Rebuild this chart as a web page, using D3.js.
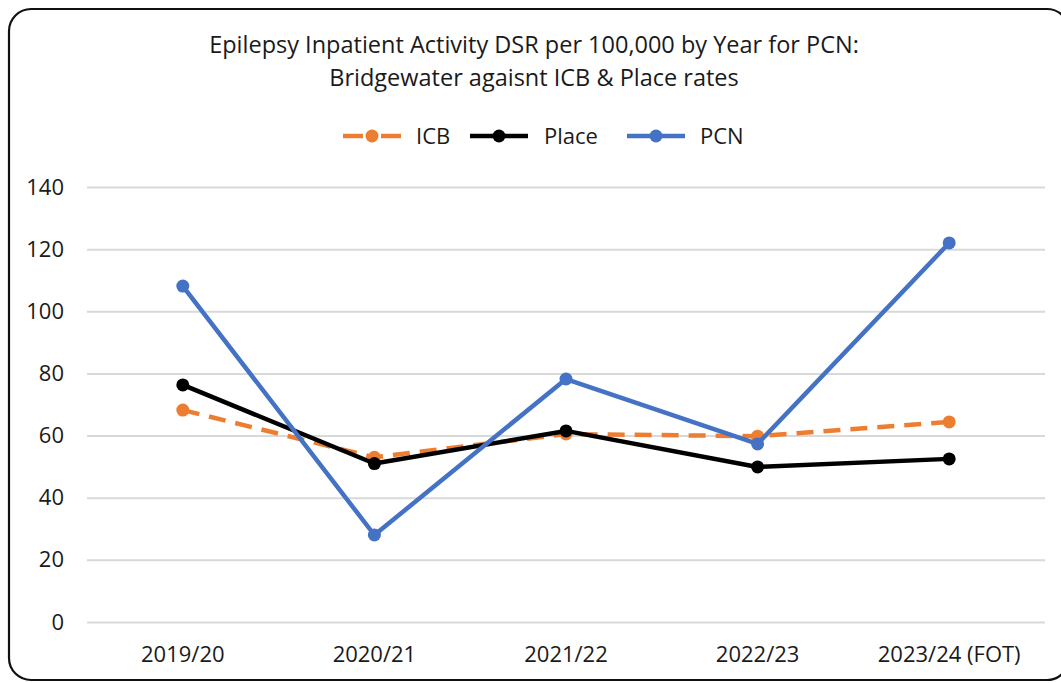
<!DOCTYPE html>
<html>
<head>
<meta charset="utf-8">
<script src="https://cdn.jsdelivr.net/npm/d3@7.9.0/dist/d3.min.js"></script>
<style>
  html, body { margin: 0; padding: 0; background: #fff; }
  svg { display: block; font-family: 'Open Sans', 'Liberation Sans', sans-serif; }
</style>
</head>
<body>
<svg id="chart" width="1061" height="683"></svg>
<script>
// data
const years = ['2019/20', '2020/21', '2021/22', '2022/23', '2023/24 (FOT)'];
const icb   = [68.2, 53.0, 60.5, 59.8, 64.4];
const place = [76.3, 51.0, 61.5, 49.9, 52.5];
const pcn   = [108.1, 28.0, 78.2, 57.3, 122.0];
const yTicks = [0, 20, 40, 60, 80, 100, 120, 140];

const series = [
  { name: 'ICB',   values: icb,   color: '#ED7D31', dash: '17,10' },
  { name: 'Place', values: place, color: '#000000', dash: null },
  { name: 'PCN',   values: pcn,   color: '#4472C4', dash: null }
];

const width = 1061, height = 683;
const margin = { top: 187, right: 16, bottom: 61, left: 87 };
const innerW = width - margin.left - margin.right;
const innerH = height - margin.top - margin.bottom;

const svg = d3.select('#chart');

// outer border
svg.append('rect')
  .attr('x', 9).attr('y', 9)
  .attr('width', 1060).attr('height', 671)
  .attr('rx', 22)
  .attr('fill', '#fff')
  .attr('stroke', '#111')
  .attr('stroke-width', 2.2);

// title
const title = svg.append('text')
  .attr('text-anchor', 'middle')
  .attr('fill', '#1a1a1a')
  .style('font-size', '23.5px');
title.append('tspan').attr('x', 534).attr('y', 53)
  .text('Epilepsy Inpatient Activity DSR per 100,000 by Year for PCN:');
title.append('tspan').attr('x', 534).attr('y', 86)
  .text('Bridgewater agaisnt ICB & Place rates');

const g = svg.append('g')
  .attr('transform', `translate(${margin.left},${margin.top})`);

const x = d3.scaleBand().domain(years).range([0, innerW]);
const y = d3.scaleLinear().domain([0, 140]).range([innerH, 0]);

// gridlines
g.append('g')
  .call(d3.axisLeft(y).tickValues(yTicks).tickSize(-innerW).tickFormat(''))
  .call(s => s.select('.domain').remove())
  .selectAll('line')
  .attr('stroke', '#d9d9d9')
  .attr('stroke-width', 2);

// y axis labels
g.append('g')
  .call(d3.axisLeft(y).tickValues(yTicks).tickSize(0).tickPadding(23))
  .call(s => s.select('.domain').remove())
  .selectAll('text')
  .attr('fill', '#1a1a1a')
  .style('font-size', '22px')
  .style('font-family', "'Open Sans', sans-serif");

// x axis labels
g.append('g')
  .attr('transform', `translate(0,${innerH})`)
  .call(d3.axisBottom(x).tickSize(0).tickPadding(24))
  .call(s => s.select('.domain').remove())
  .selectAll('text')
  .attr('fill', '#1a1a1a')
  .style('font-size', '22px')
  .style('font-family', "'Open Sans', sans-serif");

const cx = i => x(years[i]) + x.bandwidth() / 2;

const line = d3.line()
  .x((d, i) => cx(i))
  .y(d => y(d));

series.forEach(s => {
  g.append('path')
    .datum(s.values)
    .attr('d', line)
    .attr('fill', 'none')
    .attr('stroke', s.color)
    .attr('stroke-width', 4.5)
    .attr('stroke-dasharray', s.dash)
    .attr('stroke-linejoin', 'round');

  g.selectAll(null)
    .data(s.values)
    .join('circle')
    .attr('cx', (d, i) => cx(i))
    .attr('cy', d => y(d))
    .attr('r', 6.5)
    .attr('fill', s.color);
});

// legend
const legendItems = [
  { x: 343, tx: 416 },
  { x: 470, tx: 544 },
  { x: 627, tx: 700 }
];
const legend = svg.append('g');
series.forEach((s, i) => {
  const li = legendItems[i];
  const lg = legend.append('g');
  lg.append('line')
    .attr('x1', li.x).attr('x2', li.x + 58)
    .attr('y1', 136).attr('y2', 136)
    .attr('stroke', s.color)
    .attr('stroke-width', 4.5)
    .attr('stroke-dasharray', s.dash ? '20,5,8,5,20' : null);
  lg.append('circle')
    .attr('cx', li.x + 29).attr('cy', 136).attr('r', 6.5)
    .attr('fill', s.color);
  lg.append('text')
    .attr('x', li.tx).attr('y', 144)
    .attr('fill', '#1a1a1a')
    .style('font-size', '22px')
    .text(s.name);
});
</script>
</body>
</html>
